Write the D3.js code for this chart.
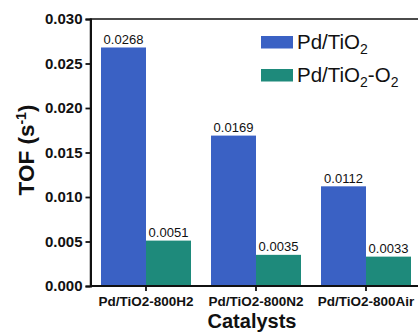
<!DOCTYPE html>
<html><head><meta charset="utf-8">
<script src="https://cdn.jsdelivr.net/npm/d3@7"></script>
<style>body{margin:0;background:#fff}svg{display:block}text{font-family:Arial,"Liberation Sans",sans-serif}</style>
</head><body><svg id="c" width="418" height="333"></svg>
<script>
const categories = ["Pd/TiO2-800H2","Pd/TiO2-800N2","Pd/TiO2-800Air"];
const seriesNames = ["Pd/TiO2","Pd/TiO2-O2"];
const pdTiO2 = [0.0268,0.0169,0.0112];
const pdTiO2O2 = [0.0051,0.0035,0.0033];
const yTicks = [0,0.005,0.010,0.015,0.020,0.025,0.030];
const colors = ["#3A61C4","#1E8A7B"];

(function(){
const svg = d3.select("#c");
const FF = "Arial,'Liberation Sans',sans-serif";
const mLeft=90.5, mTop=19, mBottom=286, mRight=480;
const y = d3.scaleLinear().domain([0,0.030]).range([mBottom,mTop]);
const x0 = d3.scaleBand().domain(categories).range([91,421]).padding(0);
const x1 = d3.scaleBand().domain(seriesNames).range([10,100]).padding(0);

const series=[pdTiO2,pdTiO2O2];
categories.forEach((c,i)=>{
  series.forEach((s,j)=>{
    const xx = x0(c)+x1(seriesNames[j]);
    svg.append("rect").attr("x",xx).attr("y",y(s[i])).attr("width",x1.bandwidth())
      .attr("height",y(0)-y(s[i])).attr("fill",colors[j]);
    svg.append("text").attr("x",xx+x1.bandwidth()/2).attr("y",y(s[i])-3.5)
      .attr("text-anchor","middle").attr("font-size",13).attr("fill","#111")
      .text(s[i].toFixed(4));
  });
});

svg.append("path").attr("d",`M${mLeft},${mBottom}V${mTop}H${mRight}`).attr("fill","none").attr("stroke","#111").attr("stroke-width",1.5);

const ya = svg.append("g").attr("transform",`translate(${mLeft},0)`)
  .call(d3.axisLeft(y).tickValues(yTicks).tickFormat(d3.format(".3f")).tickSize(5).tickPadding(3));
ya.select(".domain").attr("stroke","#111").attr("stroke-width",2);
ya.selectAll("line").attr("stroke","#111").attr("stroke-width",1.8);
ya.selectAll("text").attr("font-size",15).attr("font-weight","bold").attr("fill","#111").attr("font-family",FF);

const xa = svg.append("g").attr("transform",`translate(0,${mBottom})`)
  .call(d3.axisBottom(x0).tickSize(5).tickPadding(5));
xa.select(".domain").attr("stroke","#111").attr("stroke-width",2).attr("d",`M${mLeft},0H${mRight}`);
xa.selectAll("line").attr("stroke","#111").attr("stroke-width",1.8);
xa.selectAll("text").attr("font-size",13.5).attr("font-weight","bold").attr("fill","#111").attr("font-family",FF);

const yt = svg.append("text").attr("transform","translate(34,150) rotate(-90)")
  .attr("text-anchor","middle").attr("font-size",22.5).attr("font-weight","bold").attr("fill","#111");
yt.append("tspan").text("TOF (s");
yt.append("tspan").attr("font-size",14).attr("dy",-8).text("-1");
yt.append("tspan").attr("dy",8).text(")");

svg.append("text").attr("x",252).attr("y",328).attr("text-anchor","middle")
  .attr("font-size",20).attr("font-weight","bold").attr("fill","#111").text("Catalysts");

const legRectY = [36,69];
const legTextY = [49,82];
seriesNames.forEach((n,j)=>{
  svg.append("rect").attr("x",261).attr("y",legRectY[j]).attr("width",32).attr("height",12.5).attr("fill",colors[j]);
  const t = svg.append("text").attr("x",297).attr("y",legTextY[j]).attr("font-size",20.5).attr("fill","#111");
  t.append("tspan").text("Pd/TiO");
  t.append("tspan").attr("font-size",14).attr("dy",5).text("2");
  if(j===1){
    t.append("tspan").attr("dy",-5).text("-O");
    t.append("tspan").attr("font-size",14).attr("dy",5).text("2");
  }
});
})();
</script></body></html>
